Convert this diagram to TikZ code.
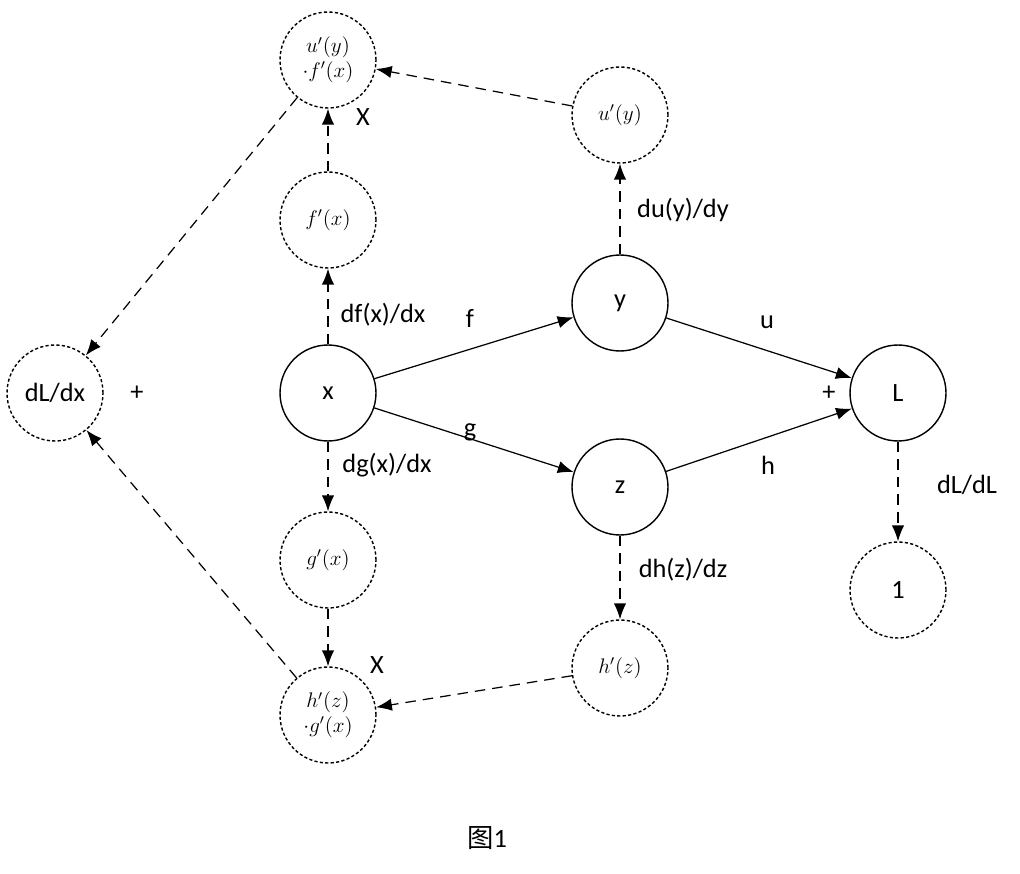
\documentclass[tikz,border=0pt]{standalone}
\usepackage{fontspec}
\setmainfont{Carlito}
\newfontfamily\cjk{Noto Sans CJK SC}
\usetikzlibrary{arrows.meta}
\begin{document}
\begin{tikzpicture}[x=0.02cm,y=-0.02cm,
  every node/.style={font=\fontsize{15}{17}\selectfont},
  sol/.style={circle,draw,line width=0.8pt,minimum size=1.92cm,inner sep=0pt},
  dot/.style={circle,draw,line width=0.8pt,dash pattern=on 1.8pt off 1.3pt,minimum size=1.92cm,inner sep=0pt,font=\fontsize{12}{14}\selectfont},
  ar/.style={-{Latex[length=9pt,width=7pt]},line width=0.7pt},
  da/.style={ar,dash pattern=on 6pt off 4pt}]
\useasboundingbox (0,0) rectangle (1020,874);
\node[dot,align=center] (uf) at (328,60) {$u'(y)$\\$\cdot f'(x)$};
\node[dot] (fx) at (328,220) {$f'(x)$};
\node[sol] (x) at (328,393) {x};
\node[dot] (dl) at (55,393) {\fontsize{15}{17}\selectfont dL/dx};
\node[dot] (gx) at (328,560) {$g'(x)$};
\node[dot,align=center] (hg) at (328,715) {$h'(z)$\\$\cdot g'(x)$};
\node[dot] (uy) at (620,115) {$u'(y)$};
\node[sol] (y) at (620,303) {y};
\node[sol] (z) at (620,487) {z};
\node[dot] (hz) at (620,668) {$h'(z)$};
\node[sol] (L) at (898,393) {L};
\node[dot] (one) at (898,590) {\fontsize{15}{17}\selectfont 1};
\draw[ar] (x) -- (y); \draw[ar] (x) -- (z);
\draw[ar] (y) -- (L); \draw[ar] (z) -- (L);
\draw[da] (x) -- (fx); \draw[da] (fx) -- (uf);
\draw[da] (y) -- (uy); \draw[da] (uy) -- (uf);
\draw[da] (x) -- (gx); \draw[da] (gx) -- (hg);
\draw[da] (z) -- (hz); \draw[da] (hz) -- (hg);
\draw[da] (L) -- (one);
\draw[da] (uf) -- (dl); \draw[da] (hg) -- (dl);
\node (l1) at (383,315) {df(x)/dx};
\node (l2) at (470,318) {f};
\node (l3) at (470,432) {g};
\node (l4) at (387,465) {dg(x)/dx};
\node (l5) at (767,322) {u};
\node (l6) at (768,465) {h};
\node (l7) at (829,393) {+};
\node (l8) at (137,393) {+};
\node (l9) at (683,210) {du(y)/dy};
\node (l10) at (683,570) {dh(z)/dz};
\node (l11) at (967,485) {dL/dL};
\node (l12) at (363,117) {X};
\node (l13) at (377,665) {X};
\node (cap) at (487,838) {{\cjk 图}1};
\end{tikzpicture}
\end{document}
